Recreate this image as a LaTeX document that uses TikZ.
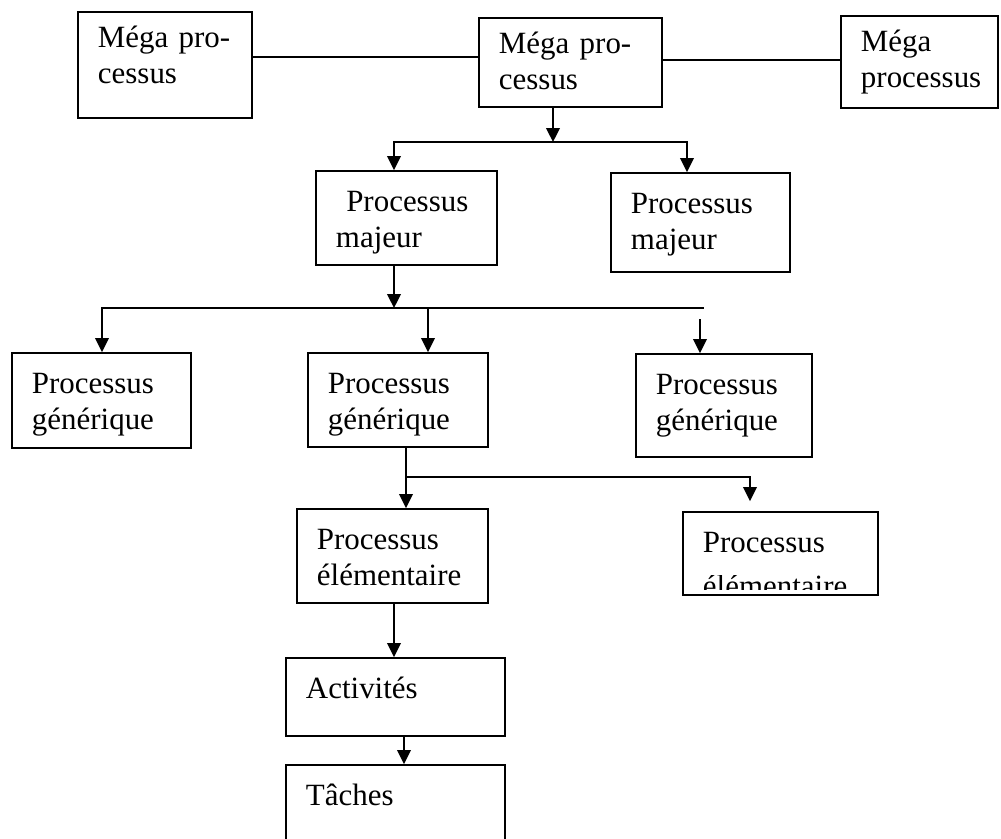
\documentclass[tikz,border=0pt]{standalone}
\usepackage{fontspec}
\setmainfont{Liberation Serif}
\usepackage{trimclip}
\usetikzlibrary{arrows.meta}
\hyphenpenalty=10000

\tikzset{
  box/.style 2 args={draw, line width=1.3pt, align=left, inner xsep=0.5cm, inner ysep=0pt,
    text width=#1, text height=1cm, text depth=#2, font=\fontsize{22}{26}\selectfont},
  link/.style={line width=1.3pt, line cap=rect},
  arr/.style={line width=1.3pt, -{Triangle[length=0.35cm,width=0.34cm]}}
}

\begin{document}
\begin{tikzpicture}[x=0.025cm,y=-0.025cm]
  \useasboundingbox (0,0) rectangle (1001,838);

  \node[box={3.35cm}{1.775cm}, text height=0.875cm] (m1) at (165,65) {Méga pro-\\cessus};
  \node[box={3.575cm}{1.35cm}, text height=0.875cm] (m2) at (570.5,62.5) {Méga pro-\\cessus};
  \node[box={2.925cm}{1.425cm}, text height=0.875cm] (m3) at (919.5,62) {Méga\\processus};

  \node[box={3.525cm}{1.35cm}] (p1) at (406.5,218) {\ Processus\\majeur};
  \node[box={3.475cm}{1.475cm}] (p2) at (700.5,222.5) {Processus\\majeur};

  \node[box={3.475cm}{1.375cm}] (g1) at (101.5,400.5) {Processus\\générique};
  \node[box={3.5cm}{1.35cm}] (g2) at (398,400) {Processus\\générique};
  \node[box={3.4cm}{1.575cm}] (g3) at (724,405.5) {Processus\\générique};

  \node[box={3.775cm}{1.35cm}] (e1) at (392.5,556) {Processus\\élémentaire};
  \node[box={3.875cm}{1.075cm}] (e2) at (780.5,553.5) {Processus\\[1pt]\clipbox{0pt 5pt 0pt 0pt}{élémentaire}};

  \node[box={4.475cm}{0.95cm}] (a1) at (395.5,697) {Activités};
  \node[box={4.475cm}{0.95cm}] (t1) at (395.5,804) {Tâches};

  \coordinate (c1) at (0,57);
  \coordinate (c2) at (0,60);
  \draw[link] (m1.east |- c1) -- (m2.west |- c1);
  \draw[link] (m2.east |- c2) -- (m3.west |- c2);

  \coordinate (s1) at (553,142);
  \coordinate (d1) at (394,142);
  \coordinate (d2) at (687,142);
  \draw[arr] (m2.south -| s1) -- (s1);
  \draw[link] (d1) -- (d2);
  \draw[arr] (d1) -- (p1.north -| d1);
  \draw[arr] (d2) -- (p2.north -| d2);

  \coordinate (s2) at (394,308);
  \coordinate (d3) at (102,308);
  \coordinate (d4) at (428,308);
  \coordinate (b2) at (703,308);
  \coordinate (d5) at (700,319);
  \draw[arr] (p1.south -| s2) -- (s2);
  \draw[link] (d3) -- (b2);
  \draw[arr] (d3) -- (g1.north -| d3);
  \draw[arr] (d4) -- (g2.north -| d4);
  \draw[arr] (d5) -- (g3.north -| d5);

  \coordinate (s3) at (406,477);
  \coordinate (d7) at (750,477);
  \draw[link] (g2.south -| s3) -- (s3) -- (d7);
  \draw[arr] (s3) -- (e1.north -| s3);
  \draw[arr, shorten >=0.25cm] (d7) -- (e2.north -| d7);

  \coordinate (s4) at (394,630);
  \coordinate (s5) at (404,750);
  \draw[arr] (e1.south -| s4) -- (a1.north -| s4);
  \draw[arr] (a1.south -| s5) -- (t1.north -| s5);
\end{tikzpicture}
\end{document}
